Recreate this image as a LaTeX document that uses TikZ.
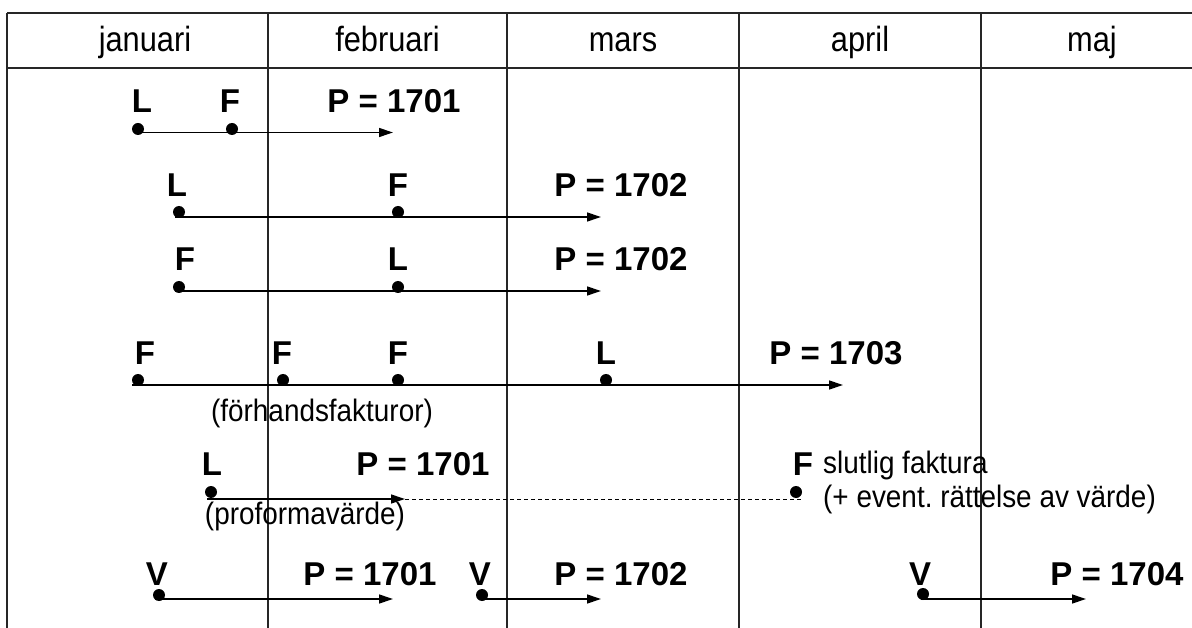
\documentclass[tikz,border=0pt]{standalone}
\usepackage{fontspec}
\setmainfont{Liberation Sans}
\newfontfamily\hdrfont[FakeStretch=0.88]{Liberation Sans}
\newfontfamily\notefont[FakeStretch=0.9]{Liberation Sans}
\usetikzlibrary{arrows.meta}
\frenchspacing
\tikzset{
  hdr/.style={font=\hdrfont\fontsize{35}{40}\selectfont, anchor=base, inner sep=0pt},
  lab/.style={font=\bfseries\fontsize{33}{38}\selectfont, anchor=base, inner sep=0pt},
  note/.style={font=\notefont\fontsize{31}{36}\selectfont, anchor=base, inner sep=0pt},
  notew/.style={note, anchor=base west},
  evdot/.style={circle, fill=black, inner sep=0pt, minimum size=12pt},
  arr/.style={line width=1.3pt, -{Triangle[length=14pt,width=9pt]}},
  dash line/.style={line width=1pt, dash pattern=on 4pt off 3pt},
  gridline/.style={line width=1.3pt, draw=black!85}
}
\begin{document}
\begin{tikzpicture}[x=1pt,y=-1pt]
\useasboundingbox (0,0) rectangle (1192,628);
% table grid
\coordinate (tl) at (7,13);   \coordinate (tr) at (1192,13);
\coordinate (hl) at (7,68);   \coordinate (hr) at (1192,68);
\draw[gridline] (tl) -- (tr);
\draw[gridline] (hl) -- (hr);
\foreach \x/\n in {7/a,268/b,507/c,739/d,981/e}{
  \coordinate (v\n t) at (\x,13); \coordinate (v\n b) at (\x,628);
  \draw[gridline] (v\n t) -- (v\n b);
}
% headers
\node[hdr] (h1) at (145,52) {januari};
\node[hdr] (h2) at (387.5,52) {februari};
\node[hdr] (h3) at (623,52) {mars};
\node[hdr] (h4) at (860,52) {april};
\node[hdr] (h5) at (1092,52) {maj};

% row 1
\node[lab] (r1L) at (142,113) {L};
\node[lab] (r1F) at (230,113) {F};
\node[lab] (r1P) at (394,113) {P = 1701};
\node[evdot] (r1d1) at (138,129) {};
\node[evdot] (r1d2) at (232,129) {};
\coordinate (r1s) at (134,132.5); \coordinate (r1e) at (393,132.5);
\draw[arr] (r1s) -- (r1e);

% row 2
\node[lab] (r2L) at (177,197) {L};
\node[lab] (r2F) at (398,197) {F};
\node[lab] (r2P) at (621,197) {P = 1702};
\node[evdot] (r2d1) at (179,212) {};
\node[evdot] (r2d2) at (398,212) {};
\coordinate (r2s) at (175,217); \coordinate (r2e) at (601,217);
\draw[arr] (r2s) -- (r2e);

% row 3
\node[lab] (r3F) at (185,271) {F};
\node[lab] (r3L) at (398,271) {L};
\node[lab] (r3P) at (621,271) {P = 1702};
\node[evdot] (r3d1) at (179,287) {};
\node[evdot] (r3d2) at (398,287) {};
\coordinate (r3s) at (175,291); \coordinate (r3e) at (601,291);
\draw[arr] (r3s) -- (r3e);

% row 4
\node[lab] (r4F1) at (145,365) {F};
\node[lab] (r4F2) at (282,365) {F};
\node[lab] (r4F3) at (398,365) {F};
\node[lab] (r4L) at (606,365) {L};
\node[lab] (r4P) at (836,365) {P = 1703};
\node[evdot] (r4d1) at (138,380) {};
\node[evdot] (r4d2) at (283,380) {};
\node[evdot] (r4d3) at (398,380) {};
\node[evdot] (r4d4) at (606,380) {};
\coordinate (r4s) at (132,385); \coordinate (r4e) at (843,385);
\draw[arr] (r4s) -- (r4e);
\node[note] (n1) at (322,421) {(förhandsfakturor)};

% row 5
\node[lab] (r5L) at (212,475) {L};
\node[lab] (r5P) at (423,475) {P = 1701};
\node[lab] (r5F) at (803,475) {F};
\node[evdot] (r5d1) at (211,492) {};
\node[evdot] (r5d2) at (796,492) {};
\coordinate (r5s) at (207,499); \coordinate (r5m) at (405,499); \coordinate (r5e) at (803,499);
\draw[arr] (r5s) -- (r5m);
\draw[dash line] (r5m) -- (r5e);
\node[notew] (n2) at (823,473) {slutlig faktura};
\node[notew] (n3) at (823,507) {(+ event. rättelse av värde)};
\node[note] (n4) at (305,524) {(proformavärde)};

% row 6
\node[lab] (r6V1) at (157,585) {V};
\node[lab] (r6P1) at (370,585) {P = 1701};
\node[lab] (r6V2) at (480,585) {V};
\node[lab] (r6P2) at (621,585) {P = 1702};
\node[lab] (r6V3) at (920,585) {V};
\node[lab] (r6P3) at (1117,585) {P = 1704};
\node[evdot] (r6d1) at (159,595) {};
\node[evdot] (r6d2) at (482,595) {};
\node[evdot] (r6d3) at (923,594) {};
\coordinate (r6s1) at (155,599); \coordinate (r6e1) at (393,599);
\coordinate (r6s2) at (480,599); \coordinate (r6e2) at (601,599);
\coordinate (r6s3) at (921,599); \coordinate (r6e3) at (1086,599);
\draw[arr] (r6s1) -- (r6e1);
\draw[arr] (r6s2) -- (r6e2);
\draw[arr] (r6s3) -- (r6e3);
\end{tikzpicture}
\end{document}
